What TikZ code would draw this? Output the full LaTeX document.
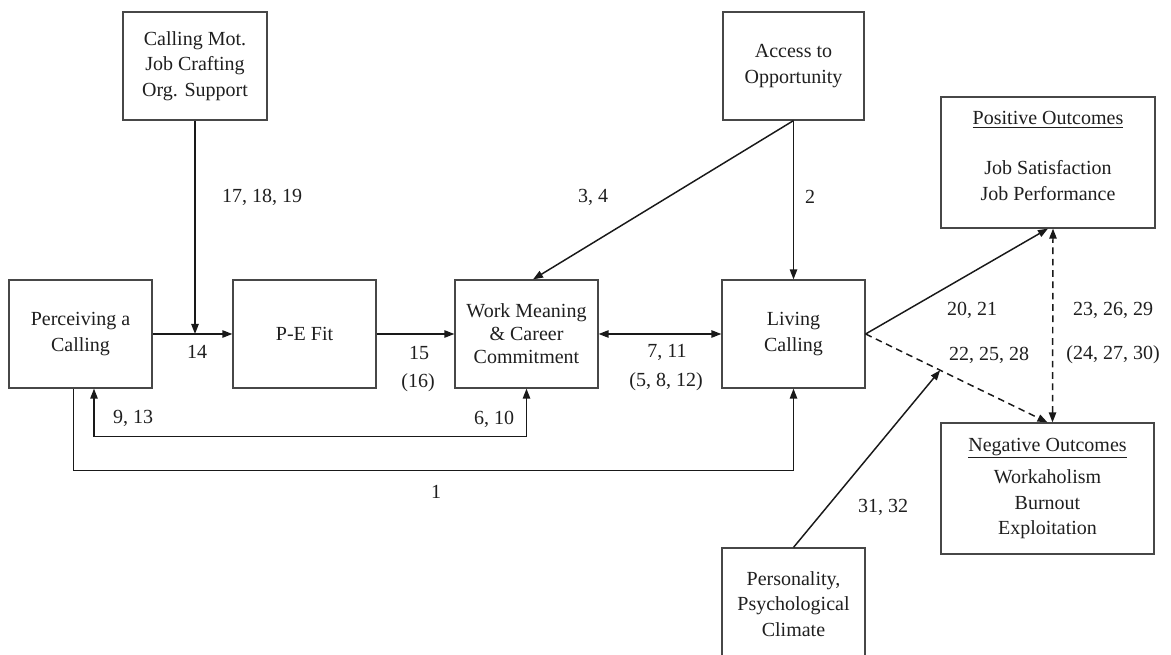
\documentclass[tikz,border=0pt]{standalone}
\usepackage{fontspec}
\setmainfont{Liberation Serif}
\usetikzlibrary{arrows.meta,calc}
\begin{document}
\begin{tikzpicture}[x=0.75pt,y=-0.75pt,
  basefont/.style={font=\fontsize{15}{19.1}\selectfont, text=black!88},
  box/.style={basefont, draw=black!72, line width=0.9pt, fill=white,
    inner sep=0pt, align=center},
  lbl/.style={basefont, inner sep=0pt},
  tip/.style={-{Triangle[length=7.5pt,width=5.5pt]}},
  arr/.style={tip, draw=black!90, line width=1.1pt},
  biarr/.style={{Triangle[length=7.5pt,width=5.5pt]}-{Triangle[length=7.5pt,width=5.5pt]},
    draw=black!90, line width=1.1pt},
  dashline/.style={dash pattern=on 5pt off 3.5pt}
]
\useasboundingbox (0,0) rectangle (1171,655);
\clip (0,0) rectangle (1171,655);
\fill[white] (0,0) rectangle (1171,655);

% upper boxes
\node[box, minimum width=108pt, minimum height=81pt] (cm) at (195,66)
  {Calling Mot.\\Job Crafting\\Org. Support};
\node[box, minimum width=105.75pt, minimum height=81pt] (ao) at (793.5,66)
  {Access to\\Opportunity};
\node[box, minimum width=160.5pt, minimum height=98.25pt] (po) at (1048,162.5) {};
\node[lbl, align=center] (potext) at (1048,156)
  {\underline{Positive Outcomes}\\[18.4pt]Job Satisfaction\\Job Performance};

% main row
\node[box, minimum width=107.25pt, minimum height=81pt] (pc) at (80.5,334)
  {Perceiving a\\Calling};
\node[box, minimum width=107.25pt, minimum height=81pt] (pe) at (304.5,334)
  {P-E Fit};
\node[box, minimum width=107.25pt, minimum height=81pt,
  font=\fontsize{15}{17.25}\selectfont] (wm) at (526.5,334)
  {Work Meaning\\\& Career\\Commitment};
\node[box, minimum width=107.25pt, minimum height=81pt] (lc) at (793.5,334)
  {Living\\Calling};

% outcomes and moderators below
\node[box, minimum width=159.75pt, minimum height=98.25pt] (ng) at (1047.5,488.5)
  {\underline{Negative Outcomes}\\[5.6pt]Workaholism\\Burnout\\Exploitation};
\node[box, minimum width=107.25pt, minimum height=84pt] (ps) at (793.5,604)
  {Personality,\\Psychological\\Climate};

% paths
\draw[arr] (cm.south) -- (cm.south |- pc.east);
\draw[arr] (pc.east) -- (pe.west);
\draw[arr] (pe.east) -- (wm.west);
\draw[biarr] (wm.east) -- (lc.west);
\draw[arr] (ao.south) -- (ao.south |- lc.north);
\draw[arr] (ao.south) -- ($(wm.north)+(6.5,0)$);
\draw[biarr] ($(pc.south)+(13.5,0)$) -- ++(0,48) -| (wm.south);
\draw[arr] ($(pc.south)+(-7,0)$) -- ++(0,82) -| (lc.south);
\draw[arr] (lc.east) -- (po.south);
\draw[arr, dashline] (lc.east) -- (ng.north);
\draw[biarr, dashline] ($(ng.north)+(5,0)$) -- ($(po.south)+(5,0)$);
\coordinate (mod) at ($(lc.east)!0.41!(ng.north)$);
\draw[arr] (ps.north) -- (mod);

% path labels
\node[lbl] (l171819) at (262,197) {17, 18, 19};
\node[lbl] (l34) at (593,197) {3, 4};
\node[lbl] (l2) at (810,197) {2};
\node[lbl] (l14) at (197,352) {14};
\node[lbl] (l15) at (419,353) {15};
\node[lbl] (l16) at (418,383) {(16)};
\node[lbl] (l711) at (667,352) {7, 11};
\node[lbl] (l5812) at (666,382) {(5, 8, 12)};
\node[lbl] (l913) at (133,418) {9, 13};
\node[lbl] (l610) at (494,419) {6, 10};
\node[lbl] (l1) at (436,492) {1};
\node[lbl] (l2021) at (972,310) {20, 21};
\node[lbl] (l232629) at (1113,310) {23, 26, 29};
\node[lbl] (l222528) at (989,355) {22, 25, 28};
\node[lbl] (l242730) at (1113,355) {(24, 27, 30)};
\node[lbl] (l3132) at (883,507) {31, 32};
\end{tikzpicture}
\end{document}
